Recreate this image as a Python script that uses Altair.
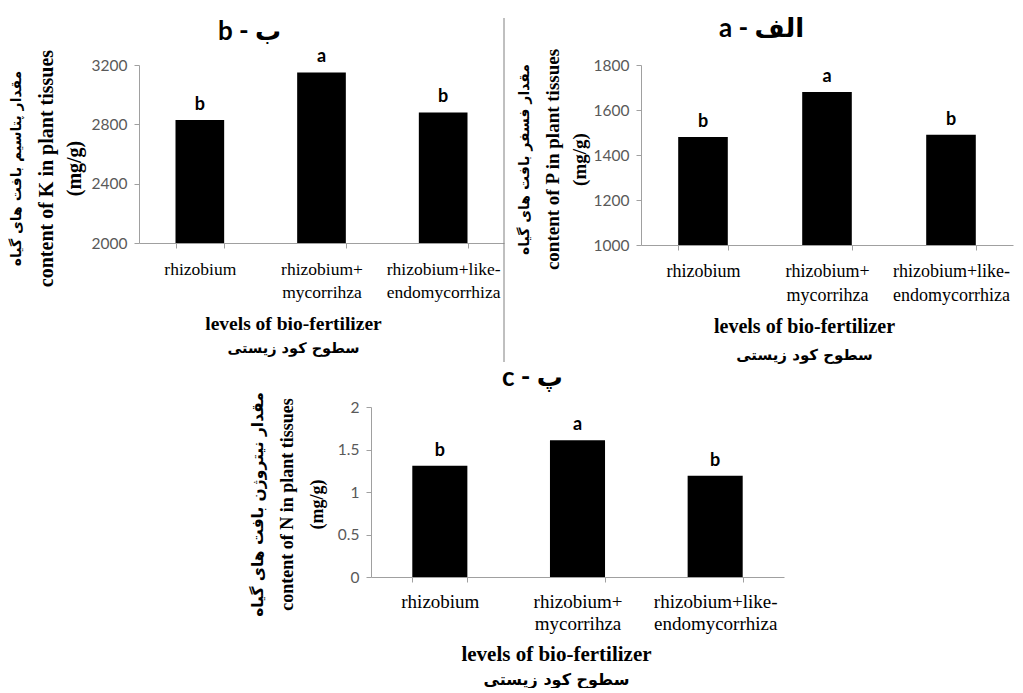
import altair as alt
import pandas as pd

# ---------------- data ----------------
categories = ["rhizobium", "rhizobium+\nmycorrihza", "rhizobium+like-\nendomycorrhiza"]
letters = ["b", "a", "b"]

k_values = [2830, 3150, 2880]
p_values = [1480, 1680, 1490]
n_values = [1.31, 1.61, 1.19]

k_ticks = [2000, 2400, 2800, 3200]
p_ticks = [1000, 1200, 1400, 1600, 1800]
n_ticks = [0, 0.5, 1, 1.5, 2]

x_title_en = "levels of bio-fertilizer"
x_title_fa = "سطوح کود زیستی"
k_ytitle = ["content of K in plant tissues", "(mg/g)"]
p_ytitle = ["content of P in plant tissues", "(mg/g)"]
n_ytitle = ["content of N in plant tissues", "(mg/g)"]
k_ytitle_fa = "مقدار پتاسیم بافت های گیاه"
p_ytitle_fa = "مقدار فسفر بافت های گیاه"
n_ytitle_fa = "مقدار نیتروژن بافت های گیاه"

k_title = "b - ب"
p_title = "a - الف"
n_title = "c - پ"

GRAY = "#a0a0a0"
SERIF = "Liberation Serif"
FA = "DejaVu Sans"
SANS = "Lato, DejaVu Sans"


def panel(values, ticks, fmt, title, ytitle, ytitle_fa, w, h, s, sep=False):
    df = pd.DataFrame({"treatment": categories, "value": values, "letter": letters})
    xscale = alt.Scale(paddingInner=0.6, paddingOuter=0.3)
    yscale = alt.Scale(domain=[ticks[0], ticks[-1]], nice=False, zero=False)
    xaxis = alt.Axis(
        orient="bottom",
        title=x_title_en,
        labelAngle=0,
        labelExpr="split(datum.label, '\\n')",
        labelFont=SERIF,
        labelFontSize=s["xlab"],
        labelLineHeight=s["xlab_lh"],
        labelColor="black",
        labelPadding=s["xlab_pad"],
        labelBaseline="top",
        labelLimit=300,
        tickBand="extent",
        tickSize=5,
        tickColor=GRAY,
        domainColor=GRAY,
        titleFont=SERIF,
        titleFontWeight="bold",
        titleFontSize=s["xt"],
        titleColor="black",
        titleAlign="center",
        titleBaseline="middle",
        titleX=s["xt_x"],
        titleY=s["xt_y"],
    )
    yaxis = alt.Axis(
        orient="left",
        values=ticks,
        format=fmt,
        title=ytitle,
        grid=False,
        labelFont=SANS,
        labelFontSize=s["ylab"],
        labelColor="#595959",
        labelPadding=7,
        tickSize=5,
        tickColor=GRAY,
        domainColor=GRAY,
        titleFont=SERIF,
        titleFontWeight="bold",
        titleFontSize=s["yt"],
        titleLineHeight=s["yt_lh"],
        titleColor="black",
        titleAngle=270,
        titleAlign="center",
        titleBaseline="middle",
        titleX=s["yt_x"],
        titleY=s["yt_y"],
    )
    bars = alt.Chart(df).mark_bar(color="black").encode(
        x=alt.X("treatment:N", sort=categories, scale=xscale, axis=xaxis),
        y=alt.Y("value:Q", scale=yscale, axis=yaxis),
        y2=alt.datum(ticks[0]),
    )
    text = alt.Chart(df).mark_text(
        font=SANS, fontSize=s["let"], fontWeight="bold", baseline="alphabetic",
        dy=-10, color="black",
    ).encode(
        x=alt.X("treatment:N", sort=categories),
        y=alt.Y("value:Q"),
        text="letter:N",
    )
    main = alt.layer(bars, text)

    # Persian axis titles and the panel heading, carried by title-only axes
    ghost_fa = alt.Chart(df).mark_point(opacity=0, size=1).encode(
        x=alt.X(
            "treatment:N", sort=categories, scale=xscale,
            axis=alt.Axis(
                orient="bottom", title=x_title_fa, labels=False, ticks=False, domain=False,
                titleFont=FA, titleFontWeight="bold", titleFontSize=s["xfa"], titleColor="black",
                titleAlign="center", titleBaseline="middle", titleX=s["xt_x"], titleY=s["xfa_y"],
            ),
        ),
        y=alt.Y(
            "value:Q", scale=yscale,
            axis=alt.Axis(
                orient="left", title=ytitle_fa, labels=False, ticks=False, domain=False, grid=False,
                titleFont=FA, titleFontWeight="bold", titleFontSize=s["yfa"], titleColor="black",
                titleAngle=270, titleAlign="center", titleBaseline="middle",
                titleX=s["yfa_x"], titleY=s["yt_y"],
            ),
        ),
    )
    ghost_title = alt.Chart(df).mark_point(opacity=0, size=1).encode(
        x=alt.X(
            "treatment:N", sort=categories, scale=xscale,
            axis=alt.Axis(
                orient="top", title=title, labels=False, ticks=False, domain=False,
                titleFont=SANS, titleFontWeight="bold", titleFontSize=s["t"], titleColor="black",
                titleAlign="center", titleBaseline="alphabetic", titleX=s["t_x"], titleY=s["t_y"],
            ),
        ),
        y=alt.Y("value:Q", scale=yscale, axis=None),
    )
    layers = [main, ghost_fa, ghost_title]
    if sep:
        rule = alt.Chart(pd.DataFrame({"k": [0]})).mark_rule(color="#808080", strokeWidth=1).encode(
            x=alt.value(w), y=alt.value(-47), y2=alt.value(297)
        )
        layers.append(rule)
    return alt.layer(*layers).resolve_scale(x="independent", y="independent").properties(
        width=w, height=h
    )


k_style = dict(xlab=17.5, xlab_lh=23, xlab_pad=12, xt=19.5, xt_x=154, xt_y=80, xfa=14.5, xfa_y=105,
               ylab=15.5, yt=20, yt_lh=28, yt_x=-93, yt_y=103, yfa=14, yfa_x=-123,
               let=18, t=26, t_x=110, t_y=-26)
p_style = dict(xlab=18, xlab_lh=24, xlab_pad=12, xt=20, xt_x=163, xt_y=81, xfa=15, xfa_y=109,
               ylab=15.5, yt=19, yt_lh=27, yt_x=-89, yt_y=94, yfa=14, yfa_x=-117,
               let=18, t=26, t_x=120, t_y=-29)
n_style = dict(xlab=19, xlab_lh=22, xlab_pad=10, xt=21, xt_x=185, xt_y=77, xfa=16, xfa_y=102,
               ylab=15.5, yt=18, yt_lh=30, yt_x=-84, yt_y=97, yfa=15.5, yfa_x=-114,
               let=18, t=26, t_x=161, t_y=-22)

k_chart = panel(k_values, k_ticks, "d", k_title, k_ytitle, k_ytitle_fa, 365, 178, k_style, sep=True)
p_chart = panel(p_values, p_ticks, "d", p_title, p_ytitle, p_ytitle_fa, 372, 180, p_style)
n_chart = panel(n_values, n_ticks, "~g", n_title, n_ytitle, n_ytitle_fa, 413, 170, n_style)

spacer = alt.Chart(pd.DataFrame({"k": [0]})).mark_point(opacity=0, size=1).encode(
    x=alt.value(116), y=alt.value(5)
).properties(width=232, height=10)

top = alt.hconcat(k_chart, p_chart, spacing=137, bounds="flush")
bottom = alt.hconcat(spacer, n_chart, spacing=0, bounds="flush")
chart = alt.vconcat(top, bottom, spacing=0).properties(
    padding={"left": 0, "top": 6, "right": 0, "bottom": 0}
).configure_view(stroke="transparent")

chart.save("out.html", embed_options={"renderer": "svg", "actions": False})
